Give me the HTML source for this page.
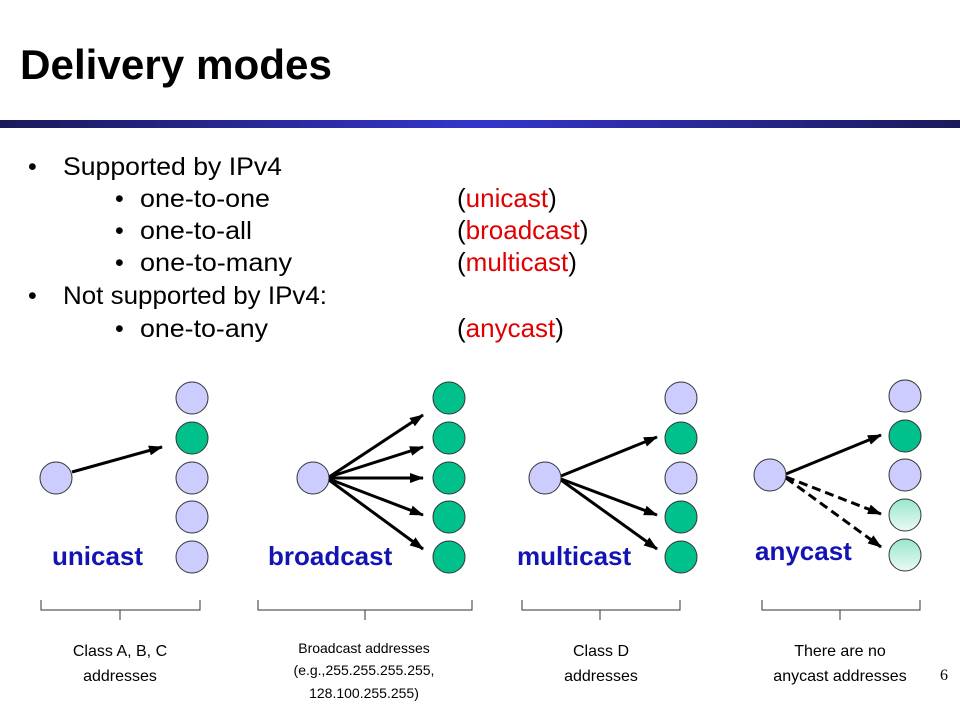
<!DOCTYPE html>
<html><head><meta charset="utf-8"><style>
html,body{margin:0;padding:0;background:#fff;}
svg{display:block;}
</style></head><body>
<svg width="960" height="720" viewBox="0 0 960 720" xmlns="http://www.w3.org/2000/svg">
<defs>
<linearGradient id="bar" x1="0" x2="1" y1="0" y2="0">
<stop offset="0" stop-color="#1a1a5a"/><stop offset="0.5" stop-color="#3535cc"/><stop offset="1" stop-color="#1a1a5a"/>
</linearGradient>
<linearGradient id="lg" x1="0" x2="0" y1="0" y2="1">
<stop offset="0" stop-color="#99e6cc"/><stop offset="1" stop-color="#eafaf3"/>
</linearGradient>
<marker id="ah" markerWidth="14" markerHeight="10" refX="13" refY="5" orient="auto" markerUnits="userSpaceOnUse">
<path d="M0,0 L14,5 L0,10 Z" fill="#000"/>
</marker>
</defs>
<text x="20" y="79" font-family="Liberation Sans, sans-serif" font-weight="bold" font-size="42" fill="#000" textLength="312" lengthAdjust="spacingAndGlyphs">Delivery modes</text>
<rect x="0" y="120" width="960" height="8" fill="url(#bar)"/>

<g font-family="Liberation Sans, sans-serif" font-size="25" fill="#000">
<text x="28" y="175">•</text><text x="63" y="175" textLength="219" lengthAdjust="spacingAndGlyphs">Supported by IPv4</text>
<text x="115" y="207">•</text><text x="140" y="207" textLength="130" lengthAdjust="spacingAndGlyphs">one-to-one</text>
<text x="115" y="239">•</text><text x="140" y="239" textLength="112" lengthAdjust="spacingAndGlyphs">one-to-all</text>
<text x="115" y="271">•</text><text x="140" y="271" textLength="152" lengthAdjust="spacingAndGlyphs">one-to-many</text>
<text x="28" y="304">•</text><text x="63" y="304" textLength="264" lengthAdjust="spacingAndGlyphs">Not supported by IPv4:</text>
<text x="115" y="337">•</text><text x="140" y="337" textLength="128" lengthAdjust="spacingAndGlyphs">one-to-any</text>
</g>
<g font-family="Liberation Sans, sans-serif" font-size="26" fill="#000">
<text x="457" y="207">(<tspan fill="#e00000">unicast</tspan>)</text>
<text x="457" y="239">(<tspan fill="#e00000">broadcast</tspan>)</text>
<text x="457" y="271">(<tspan fill="#e00000">multicast</tspan>)</text>
<text x="457" y="337">(<tspan fill="#e00000">anycast</tspan>)</text>
</g>

<g stroke="#000" stroke-width="3" fill="none" marker-end="url(#ah)">
<line x1="72" y1="472" x2="162" y2="447"/>
<line x1="329" y1="477" x2="423" y2="415"/>
<line x1="329" y1="477" x2="423" y2="447"/>
<line x1="329" y1="478" x2="423" y2="478"/>
<line x1="329" y1="479" x2="423" y2="515"/>
<line x1="329" y1="480" x2="423" y2="549"/>
<line x1="561" y1="476" x2="657" y2="437"/>
<line x1="561" y1="479" x2="657" y2="515"/>
<line x1="561" y1="480" x2="657" y2="549"/>
<line x1="786" y1="474" x2="881" y2="435"/>
<line x1="786" y1="477" x2="881" y2="514" stroke-dasharray="9,5"/>
<line x1="786" y1="478" x2="881" y2="547" stroke-dasharray="9,5"/>
</g>

<g stroke="#333" stroke-width="1">
<circle cx="56" cy="478" r="16" fill="#ccccff"/>
<circle cx="192" cy="398" r="16" fill="#ccccff"/>
<circle cx="192" cy="438" r="16" fill="#00c08c"/>
<circle cx="192" cy="478" r="16" fill="#ccccff"/>
<circle cx="192" cy="517" r="16" fill="#ccccff"/>
<circle cx="192" cy="557" r="16" fill="#ccccff"/>

<circle cx="313" cy="478" r="16" fill="#ccccff"/>
<circle cx="449" cy="398" r="16" fill="#00c08c"/>
<circle cx="449" cy="438" r="16" fill="#00c08c"/>
<circle cx="449" cy="478" r="16" fill="#00c08c"/>
<circle cx="449" cy="517" r="16" fill="#00c08c"/>
<circle cx="449" cy="557" r="16" fill="#00c08c"/>

<circle cx="545" cy="478" r="16" fill="#ccccff"/>
<circle cx="681" cy="398" r="16" fill="#ccccff"/>
<circle cx="681" cy="438" r="16" fill="#00c08c"/>
<circle cx="681" cy="478" r="16" fill="#ccccff"/>
<circle cx="681" cy="517" r="16" fill="#00c08c"/>
<circle cx="681" cy="557" r="16" fill="#00c08c"/>

<circle cx="770" cy="475" r="16" fill="#ccccff"/>
<circle cx="905" cy="396" r="16" fill="#ccccff"/>
<circle cx="905" cy="436" r="16" fill="#00c08c"/>
<circle cx="905" cy="475" r="16" fill="#ccccff"/>
<circle cx="905" cy="515" r="16" fill="url(#lg)"/>
<circle cx="905" cy="555" r="16" fill="url(#lg)"/>
</g>

<g font-family="Liberation Sans, sans-serif" font-weight="bold" font-size="26" fill="#1414b4">
<text x="52" y="565">unicast</text>
<text x="268" y="565">broadcast</text>
<text x="517" y="565">multicast</text>
<text x="755" y="560">anycast</text>
</g>

<g stroke="#333" stroke-width="1" fill="none">
<path d="M41,600 V610 H200 V600 M120,610 V620"/>
<path d="M258,600 V610 H472 V600 M365,610 V620"/>
<path d="M522,600 V610 H680 V600 M600,610 V620"/>
<path d="M762,600 V610 H920 V600 M840,610 V620"/>
</g>

<g font-family="Liberation Sans, sans-serif" fill="#000" text-anchor="middle">
<text x="120" y="656" font-size="16">Class A, B, C</text>
<text x="120" y="681" font-size="16">addresses</text>
<text x="364" y="653" font-size="14">Broadcast addresses</text>
<text x="364" y="675" font-size="14">(e.g.,255.255.255.255,</text>
<text x="364" y="698" font-size="14">128.100.255.255)</text>
<text x="601" y="656" font-size="16">Class D</text>
<text x="601" y="681" font-size="16">addresses</text>
<text x="840" y="656" font-size="16">There are no</text>
<text x="840" y="681" font-size="16">anycast addresses</text>
</g>
<text x="940" y="680" font-family="Liberation Serif, serif" font-size="16" fill="#000">6</text>
</svg>
</body></html>
